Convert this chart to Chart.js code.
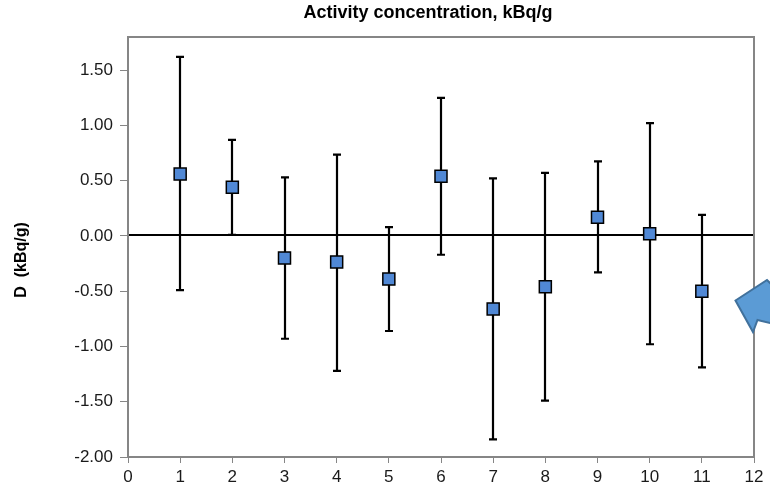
<!DOCTYPE html>
<html>
<head>
<meta charset="utf-8">
<script src="https://cdn.jsdelivr.net/npm/chart.js@4.4.1/dist/chart.umd.min.js"></script>
<style>
  html, body { margin: 0; padding: 0; background: #ffffff; }
  #wrap { width: 770px; height: 486px; }
</style>
</head>
<body>
<div id="wrap"><canvas id="c" width="770" height="486"></canvas></div>
<script>
// ---- data ----
const categories = [1, 2, 3, 4, 5, 6, 7, 8, 9, 10, 11];
const meanValues = [0.56, 0.44, -0.20, -0.235, -0.39, 0.54, -0.66, -0.46, 0.17, 0.02, -0.50];
const upperValues = [1.62, 0.87, 0.53, 0.735, 0.08, 1.25, 0.52, 0.57, 0.675, 1.02, 0.19];
const lowerValues = [-0.49, 0.01, -0.93, -1.22, -0.86, -0.17, -1.84, -1.49, -0.33, -0.98, -1.19];
const yTickValues = [-2.0, -1.5, -1.0, -0.5, 0.0, 0.5, 1.0, 1.5];
const xTickValues = [0, 1, 2, 3, 4, 5, 6, 7, 8, 9, 10, 11, 12];
const chartTitle = 'Activity concentration, kBq/g';
const yAxisTitle = 'D  (kBq/g)';

const FONT = "'Liberation Sans', Arial, Helvetica, sans-serif";
const AXIS_GRAY = '#868686';

const points = categories.map((c, i) => ({ x: c, y: meanValues[i] }));

const decorPlugin = {
  id: 'decor',
  beforeDatasetsDraw(chart) {
    const { ctx, chartArea: a, scales: { x, y } } = chart;
    ctx.save();
    // zero line
    const y0 = Math.round(y.getPixelForValue(0)) - 1;
    ctx.strokeStyle = '#000';
    ctx.lineWidth = 2;
    ctx.beginPath();
    ctx.moveTo(a.left, y0);
    ctx.lineTo(a.right, y0);
    ctx.stroke();
    // error bars
    const cap = 4;
    ctx.lineWidth = 2.2;
    categories.forEach((c, i) => {
      const px = Math.round(x.getPixelForValue(c));
      const pt = y.getPixelForValue(upperValues[i]);
      const pb = y.getPixelForValue(lowerValues[i]);
      ctx.beginPath();
      ctx.moveTo(px, pt); ctx.lineTo(px, pb);
      ctx.moveTo(px - cap, pt); ctx.lineTo(px + cap, pt);
      ctx.moveTo(px - cap, pb); ctx.lineTo(px + cap, pb);
      ctx.stroke();
    });
    ctx.restore();
  },
  afterDraw(chart) {
    const { ctx, chartArea: a } = chart;
    ctx.save();
    // frame
    ctx.strokeStyle = AXIS_GRAY;
    ctx.lineWidth = 2;
    ctx.strokeRect(a.left, a.top, a.right - a.left, a.bottom - a.top);
    // chart title
    ctx.fillStyle = '#000';
    ctx.font = 'bold 18px ' + FONT;
    ctx.textAlign = 'center';
    ctx.textBaseline = 'middle';
    ctx.fillText(chartTitle, 428, 13);
    // y axis title
    ctx.save();
    ctx.translate(22, 260);
    ctx.rotate(-Math.PI / 2);
    ctx.font = 'bold 16px ' + FONT;
    ctx.fillText(yAxisTitle, 0, 0);
    ctx.restore();
    // callout arrow (slide decoration)
    ctx.beginPath();
    ctx.moveTo(735.5, 300.5);
    ctx.lineTo(767, 280);
    ctx.lineTo(775, 288);
    ctx.lineTo(800, 300);
    ctx.lineTo(800, 330);
    ctx.lineTo(757.5, 320);
    ctx.lineTo(753, 332);
    ctx.closePath();
    ctx.fillStyle = '#5B9BD5';
    ctx.fill();
    ctx.strokeStyle = '#41719C';
    ctx.lineWidth = 2;
    ctx.stroke();
    ctx.restore();
  }
};

new Chart(document.getElementById('c'), {
  type: 'scatter',
  data: {
    datasets: [{
      data: points,
      pointStyle: 'rect',
      pointRadius: 8.5,
      pointHoverRadius: 8.5,
      pointBackgroundColor: '#5088d5',
      pointBorderColor: '#000',
      pointBorderWidth: 1.5,
      showLine: false
    }]
  },
  options: {
    responsive: false,
    animation: false,
    events: [],
    layout: { padding: { left: 0, right: 16, top: 37, bottom: 0 } },
    plugins: {
      legend: { display: false },
      tooltip: { enabled: false },
      title: { display: false }
    },
    scales: {
      x: {
        type: 'linear',
        min: 0,
        max: 12,
        afterBuildTicks(s) { s.ticks = xTickValues.map(v => ({ value: v })); },
        afterFit(s) { s.height = 29; },
        grid: { drawOnChartArea: false, drawTicks: true, tickLength: 6, color: AXIS_GRAY, tickColor: AXIS_GRAY },
        border: { display: true, color: AXIS_GRAY, width: 2 },
        ticks: {
          padding: 4,
          color: '#1a1a1a',
          font: { family: FONT, size: 17 },
          maxRotation: 0,
          callback: v => String(v)
        }
      },
      y: {
        type: 'linear',
        min: -2,
        max: 1.8,
        afterBuildTicks(s) { s.ticks = yTickValues.map(v => ({ value: v })); },
        afterFit(s) { s.width = 128; },
        grid: { drawOnChartArea: false, drawTicks: true, tickLength: 8, color: AXIS_GRAY, tickColor: AXIS_GRAY },
        border: { display: true, color: AXIS_GRAY, width: 2 },
        ticks: {
          padding: 7,
          color: '#1a1a1a',
          font: { family: FONT, size: 17 },
          callback: v => Number(v).toFixed(2)
        }
      }
    }
  },
  plugins: [decorPlugin]
});
</script>
</body>
</html>
